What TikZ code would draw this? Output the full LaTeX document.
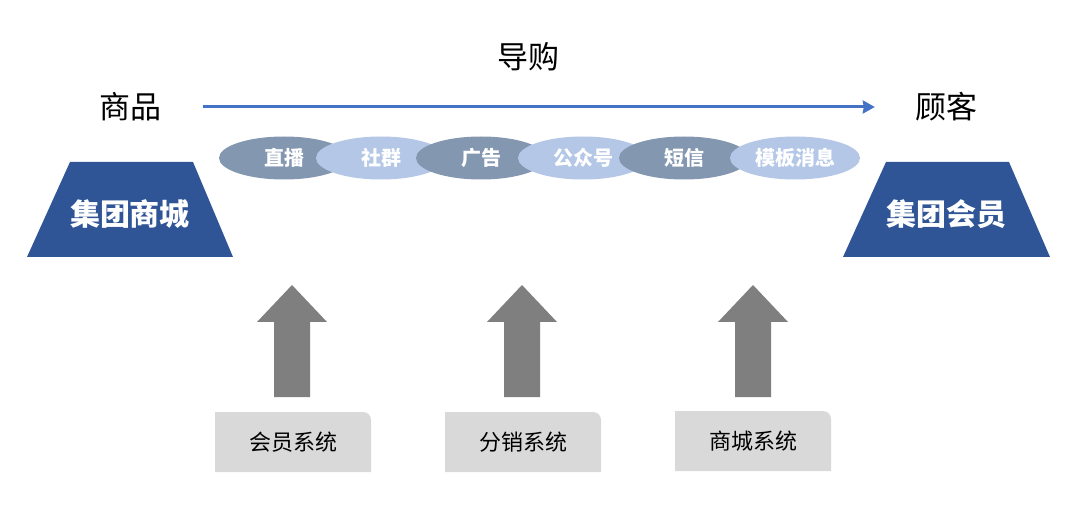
\documentclass[tikz,border=0pt]{standalone}
\usepackage{fontspec}
\setmainfont{Noto Sans CJK SC}
\usetikzlibrary{shapes.geometric, arrows.meta}

\definecolor{mallblue}{HTML}{2F5597}
\definecolor{flowblue}{HTML}{4472C4}
\definecolor{chandark}{HTML}{8497B0}
\definecolor{chanlight}{HTML}{B4C7E7}
\definecolor{liftgray}{HTML}{7F7F7F}
\definecolor{sysgray}{HTML}{D9D9D9}

\def \mallL{ (70,162) -- (193,162) -- (233,257) -- (27,257) -- cycle }
\def \mallR{ (886,162) -- (1009,162) -- (1050,257) -- (843,257) -- cycle }

\tikzset{
  label/.style={inner sep=0pt, font=\fontsize{31}{31}\selectfont},
  chan/.style={ellipse, minimum width=130pt, minimum height=43pt, inner sep=0pt,
    text=white, font=\fontsize{20}{20}\selectfont\bfseries},
  mall/.style={inner sep=0pt, text=white, font=\fontsize{30}{30}\selectfont\bfseries},
  sys/.style={inner sep=0pt, font=\fontsize{22}{22}\selectfont},
  flow/.style={flowblue, line width=3pt, -{Stealth[length=12pt,width=13pt,inset=1pt]}}
}

\begin{document}
\begin{tikzpicture}[x=1pt, y=-1pt]
\useasboundingbox[fill=white] (0,0) rectangle (1080,505);

% top line
\node[label] (guide) at (528,57) {导购};
\node[label] (goods) at (130,107) {商品};
\node[label] (customer) at (946,107) {顾客};
\draw[flow, shorten <=42pt, shorten >=40pt] (goods.east) -- (customer.west);

% channels
\node[chan, fill=chandark]  (live)   at (284,158) {直播};
\node[chan, fill=chanlight] (group)  at (381,158) {社群};
\node[chan, fill=chandark]  (ads)    at (481,158) {广告};
\node[chan, fill=chanlight] (public) at (583,158) {公众号};
\node[chan, fill=chandark]  (sms)    at (684,158) {短信};
\node[chan, fill=chanlight] (tmpl)   at (795,158) {模板消息};

% the two ends
\fill[mallblue] \mallL;
\fill[mallblue] \mallR;
\node[mall] (mall) at (130,214) {集团商城};
\node[mall] (member) at (946,214) {集团会员};

% lifting arrows
\foreach \cx in {292,522,753}
  \fill[liftgray] (\cx-18,397) -- (\cx-18,322) -- (\cx-35,322) -- (\cx,285)
    -- (\cx+35,322) -- (\cx+18,322) -- (\cx+18,397) -- cycle;

% systems
\foreach \x/\y/\name in {215/412/sysA, 445/412/sysB, 675/411/sysC}
  \fill[sysgray] (\x,\y+60) -- (\x,\y) -- (\x+148,\y)
    arc[start angle=90, end angle=0, radius=8pt] -- (\x+156,\y+60) -- cycle;
\node[sys] (sysA) at (293,442) {会员系统};
\node[sys] (sysB) at (523,442) {分销系统};
\node[sys] (sysC) at (753,441) {商城系统};
\end{tikzpicture}
\end{document}
